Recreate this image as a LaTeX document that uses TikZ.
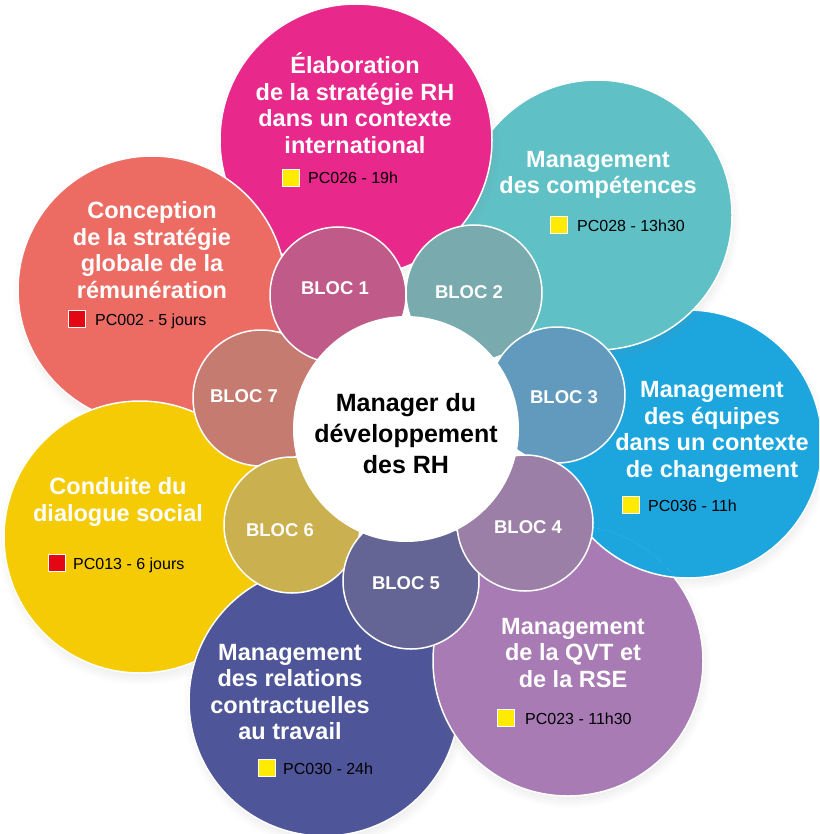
\documentclass[tikz,border=0pt]{standalone}
\usepackage{fontspec}
\setmainfont{Liberation Sans}
\usetikzlibrary{shadows,fadings}
\definecolor{cpink}{RGB}{232,40,138}
\definecolor{cteal}{RGB}{95,192,198}
\definecolor{cblue}{RGB}{29,166,222}
\definecolor{cpurple}{RGB}{168,123,180}
\definecolor{cnavy}{RGB}{78,86,153}
\definecolor{cyellow}{RGB}{245,203,5}
\definecolor{csalmon}{RGB}{236,108,100}
\definecolor{bone}{RGB}{192,90,136}
\definecolor{btwo}{RGB}{121,170,174}
\definecolor{bthree}{RGB}{98,154,190}
\definecolor{bfour}{RGB}{156,127,166}
\definecolor{bfive}{RGB}{100,101,148}
\definecolor{bsix}{RGB}{203,176,80}
\definecolor{bseven}{RGB}{197,123,112}
\definecolor{mkyellow}{RGB}{255,235,0}
\definecolor{mkred}{RGB}{227,6,19}
\tikzset{
  bigplain/.style={circle, inner sep=0pt, minimum size=#1, draw=white, line width=1.5pt},
  bigc/.style={bigplain=#1, circular drop shadow={shadow xshift=1pt, shadow yshift=-5pt, opacity=0.22, shadow scale=1.05}},
  bloc/.style={circle, inner sep=0pt, minimum size=136pt, draw=white, line width=1.5pt},
  ttl/.style={text=white, font=\bfseries\fontsize{23.5}{26.5}\selectfont, align=center, inner sep=0pt},
  ctr/.style={text=black, font=\bfseries\fontsize{25}{31}\selectfont, align=center, inner sep=0pt},
  bloctxt/.style={text=white, font=\bfseries\fontsize{18.5}{20}\selectfont, inner sep=0pt},
  code/.style={text=black, font=\fontsize{16}{18}\selectfont, anchor=base west, inner sep=0pt},
  sq/.style={rectangle, inner sep=0pt, minimum size=17pt, draw=white, line width=0.6pt, fill=#1},
}
\begin{document}
\begin{tikzpicture}[x=1pt,y=-1pt]
\useasboundingbox (0,0) rectangle (819,834);
\clip (0,0) rectangle (819,834);
% big circles, bottom to top
\node[bigc=268pt, fill=cblue] (blue) at (688,444) {};
\node[bigc=270pt, fill=cteal] (teal) at (597,215) {};
\node[bigc=272pt, fill=cpink] (pink) at (356,140) {};
\node[bigc=268pt, fill=csalmon] (salmon) at (152,290) {};
\node[bigc=272pt, fill=cyellow] (yellow) at (140,537) {};
\node[bigc=270pt, fill=cnavy] (navy) at (324,701) {};
\node[bigc=270pt, fill=cpurple] (purple) at (568,661) {};
\begin{scope}
  \clip (568,661) circle[radius=136pt];
  \node[bigplain=268pt, fill=cblue] (blueover) at (688,444) {};
\end{scope}
% bloc circles
\node[bloc, fill=bseven] (b7) at (261,398) {};
\node[bloc, fill=bsix] (b6) at (292,525) {};
\node[bloc, fill=bfive] (b5) at (411,581) {};
\node[bloc, fill=bone] (b1) at (338,295) {};
\node[bloc, fill=btwo] (b2) at (474,293) {};
\node[bloc, fill=bthree] (b3) at (557,395) {};
\node[bloc, fill=bfour] (b4) at (525,523) {};
% centre
\node[circle, inner sep=0pt, minimum size=226pt, fill=white] (centre) at (406,429) {};
\node[ctr] (centretxt) at (406,434) {Manager du\\développement\\des RH};
% bloc labels
\node[bloctxt] (l1) at (335,288) {BLOC 1};
\node[bloctxt] (l2) at (469,292) {BLOC 2};
\node[bloctxt] (l3) at (564,397) {BLOC 3};
\node[bloctxt] (l4) at (528,527) {BLOC 4};
\node[bloctxt] (l5) at (406,583) {BLOC 5};
\node[bloctxt] (l6) at (280,530) {BLOC 6};
\node[bloctxt] (l7) at (244,396) {BLOC 7};
% titles
\node[ttl] (tpink) at (355,103) {Élaboration\\de la stratégie RH\\dans un contexte\\international};
\node[ttl] (tteal) at (598,175) {Management\\des compétences};
\node[ttl] (tsalmon) at (152,250) {Conception\\de la stratégie\\globale de la\\rémunération};
\node[ttl] (tblue) at (712,432) {Management\\des équipes\\dans un contexte\\de changement};
\node[ttl] (tpurple) at (573,653) {Management\\de la QVT et\\de la RSE};
\node[ttl] (tnavy) at (290,692) {Management\\des relations\\contractuelles\\au travail};
\node[ttl] (tyellow) at (118,502) {Conduite du\\dialogue social};
% codes
\node[sq=mkyellow] (mpink) at (291,178) {};
\node[code] (cpink) at (308,184) {PC026 - 19h};
\node[sq=mkyellow] (mteal) at (559,225) {};
\node[code] (cteal) at (577,231) {PC028 - 13h30};
\node[sq=mkred] (msalmon) at (77,319) {};
\node[code] (csalmon) at (95,325) {PC002 - 5 jours};
\node[sq=mkred] (myellow) at (57,563) {};
\node[code] (cyellow) at (73,569) {PC013 - 6 jours};
\node[sq=mkyellow] (mnavy) at (267,768) {};
\node[code] (cnavy) at (283,774) {PC030 - 24h};
\node[sq=mkyellow] (mblue) at (631,505) {};
\node[code] (cblue) at (648,511) {PC036 - 11h};
\node[sq=mkyellow] (mpurple) at (506,718) {};
\node[code] (cpurple) at (525,724) {PC023 - 11h30};
\end{tikzpicture}
\end{document}
